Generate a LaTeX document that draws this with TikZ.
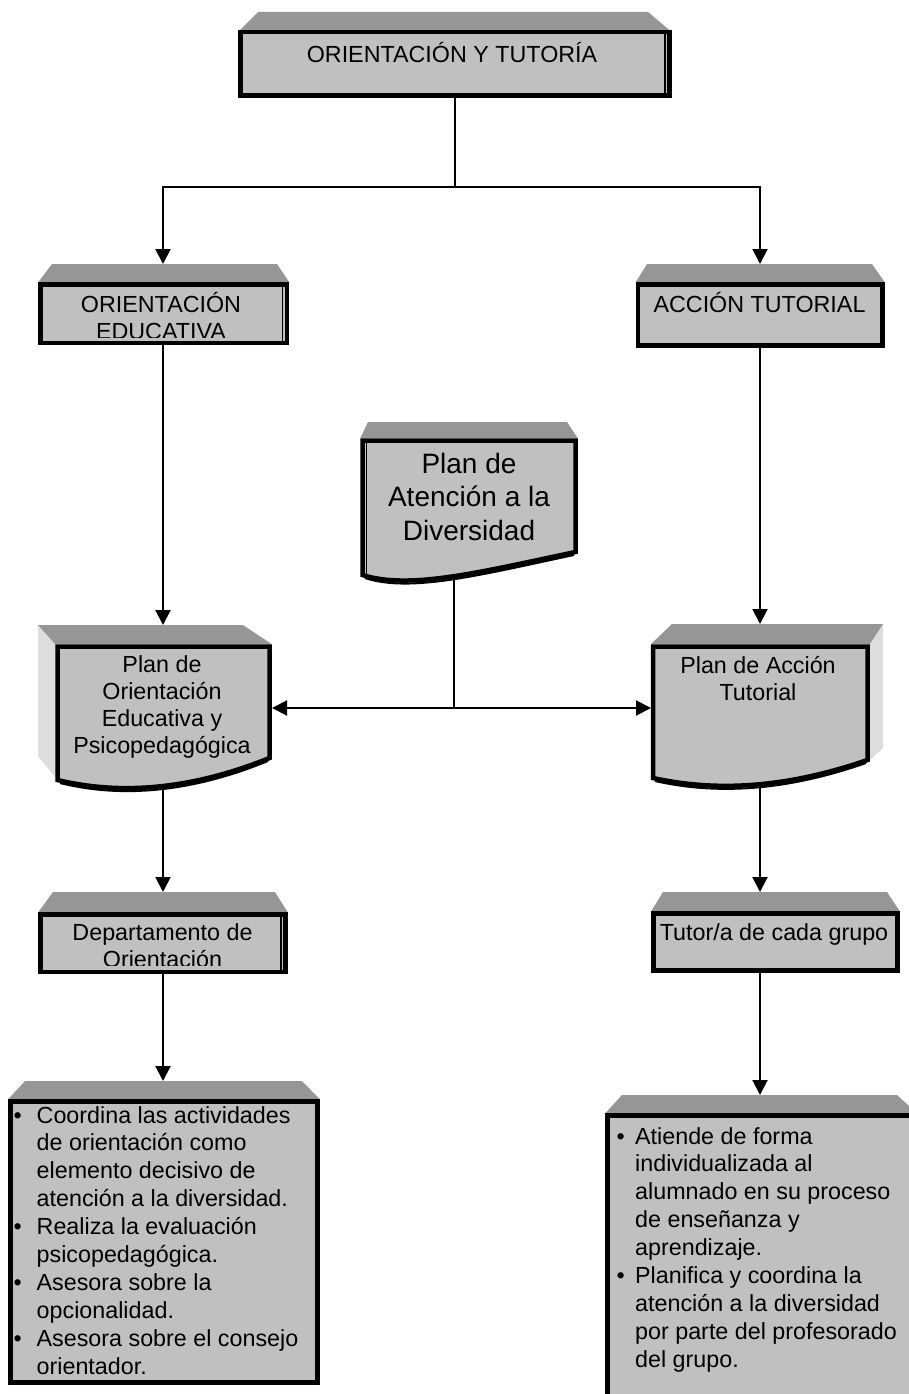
\documentclass[tikz,border=0pt]{standalone}
\usepackage{fontspec}
\setmainfont{Liberation Sans}
\usetikzlibrary{arrows.meta}
\definecolor{facegray}{HTML}{C0C0C0}
\definecolor{topgray}{HTML}{969696}
\definecolor{sidegray}{HTML}{DDDDDD}
\tikzset{
  front/.style={draw=black, fill=facegray, line width=4.5pt, inner sep=0pt, outer sep=0pt},
  topface/.style={fill=topgray},
  sideface/.style={fill=sidegray},
  sketch/.style={draw=black, line width=1.2pt},
  conn/.style={line width=2pt},
  arr/.style={conn, -{Triangle[length=15pt,width=15pt]}},
  boxtext/.style={inner sep=0pt, anchor=base, font=\fontsize{23.3}{27}\selectfont},
  bigtext/.style={inner sep=0pt, anchor=base, font=\fontsize{28}{33.5}\selectfont},
  listtext/.style={inner sep=0pt, anchor=base west, font=\fontsize{23.3}{27.9}\selectfont},
}
\newcommand{\itembullet}[1]{\leavevmode\llap{\textbullet\hspace{#1}}}
\begin{document}
\begin{tikzpicture}[x=1pt,y=-1pt]
\clip (0,0) rectangle (909,1394);

% ---------- ORIENTACIÓN Y TUTORÍA ----------
\fill[topface] (258,12) -- (648,12) -- (671.75,32) -- (238.25,32) -- cycle;
\node[front, minimum width=429pt, minimum height=63.5pt] (A) at (455,63.75) {};
\draw[sketch] (665,34) -- (665,94);
\node[boxtext] (tA) at (452,63) {ORIENTACIÓN Y TUTORÍA};

% ---------- ORIENTACIÓN EDUCATIVA ----------
\fill[topface] (52,264) -- (277,264) -- (289.25,282.25) -- (38.25,282.25) -- cycle;
\node[front, minimum width=246.5pt, minimum height=58.5pt] (B) at (163.75,313.75) {};
\draw[sketch] (282.5,287) -- (282.5,341);
\begin{scope}
  \clip (43,287) rectangle (280,337);
  \node[boxtext] (tB) at (161,312) {\parbox[t]{240pt}{\centering ORIENTACIÓN\\EDUCATIVA}};
\end{scope}

% ---------- ACCIÓN TUTORIAL ----------
\fill[topface] (647,264) -- (872,264) -- (884.75,282.25) -- (635.75,282.25) -- cycle;
\node[front, minimum width=244.5pt, minimum height=61pt] (C) at (760.25,315) {};
\node[boxtext] (tC) at (759.5,312) {ACCIÓN TUTORIAL};

% ---------- Plan de Atención a la Diversidad ----------
\fill[topface] (368,422) -- (567,422) -- (577.75,438.25) -- (360.25,438.25) -- cycle;
\draw[front] (362.5,440.5) -- (575.5,440.5) -- (575.5,552)
  .. controls (480,572) and (410,590) .. (362.5,575) -- cycle;
\draw[sketch] (366.5,443) -- (366.5,574);
\draw[line width=2pt] (365,578) .. controls (410,593) and (480,575) .. (574,555);
\node[bigtext] (tD) at (469,473) {\parbox[t]{210pt}{\centering Plan de\\Atención a la\\Diversidad}};

% ---------- Plan de Orientación Educativa y Psicopedagógica ----------
\fill[sideface] (38,625) -- (57.5,646.5) -- (57.5,780) -- (38,756) -- cycle;
\fill[topface] (38,625) -- (243,625) -- (271.75,644.25) -- (55.25,644.25) -- cycle;
\draw[front] (57.5,646.5) -- (269.5,646.5) -- (269.5,758)
  .. controls (190,790) and (120,795) .. (57.5,780) -- cycle;
\draw[line width=2pt] (60,783) .. controls (120,798) and (190,793) .. (268,761);
\node[boxtext] (tE) at (162,672) {\parbox[t]{210pt}{\centering Plan de\\Orientación\\Educativa y\\Psicopedagógica}};

% ---------- Plan de Acción Tutorial ----------
\fill[sideface] (869.75,644.25) -- (883,624) -- (883,748) -- (869.75,760) -- cycle;
\fill[topface] (672,624) -- (883,624) -- (869.75,644.25) -- (650.75,644.25) -- cycle;
\draw[front] (653,646.5) -- (867.5,646.5) -- (867.5,760)
  .. controls (786,788) and (717,792) .. (653,778) -- cycle;
\draw[line width=2pt] (655,781) .. controls (717,795) and (786,791) .. (866,763);
\node[boxtext] (tF) at (758,673) {\parbox[t]{210pt}{\centering Plan de Acción\\Tutorial}};

% ---------- Departamento de Orientación ----------
\fill[topface] (53,892) -- (275,892) -- (287.75,912.25) -- (38.25,912.25) -- cycle;
\node[front, minimum width=245pt, minimum height=57.5pt] (G) at (163,943.25) {};
\draw[sketch] (281,917) -- (281,970);
\begin{scope}
  \clip (43,917) rectangle (280,965);
  \node[boxtext] (tG) at (162.5,940) {\parbox[t]{240pt}{\centering Departamento de\\Orientación}};
\end{scope}

% ---------- Tutor/a de cada grupo ----------
\fill[topface] (663,892) -- (887,892) -- (899.75,911.25) -- (651.25,911.25) -- cycle;
\node[front, minimum width=244pt, minimum height=57pt] (H) at (775.5,942) {};
\node[boxtext] (tH) at (774,940) {Tutor/a de cada grupo};

% ---------- tasks of the department ----------
\fill[topface] (25,1081) -- (302,1081) -- (319.75,1099.25) -- (8.25,1099.25) -- cycle;
\node[front, minimum width=307pt, minimum height=281pt] (I) at (164,1242) {};
\node[listtext] (tI) at (36.5,1123) {\parbox[t]{280pt}{\raggedright
  \itembullet{15pt}Coordina las actividades\\
  de orientación como\\
  elemento decisivo de\\
  atención a la diversidad.\\
  \itembullet{15pt}Realiza la evaluación\\
  psicopedagógica.\\
  \itembullet{15pt}Asesora sobre la\\
  opcionalidad.\\
  \itembullet{15pt}Asesora sobre el consejo\\
  orientador.}};

% ---------- tasks of the tutor ----------
\fill[topface] (622,1095) -- (897,1095) -- (917,1113.25) -- (605.25,1113.25) -- cycle;
\node[front, minimum width=307.5pt, minimum height=284.5pt] (J) at (761.25,1257.75) {};
\node[listtext] (tJ) at (635,1144) {\parbox[t]{280pt}{\raggedright
  \itembullet{10.5pt}Atiende de forma\\
  individualizada al\\
  alumnado en su proceso\\
  de enseñanza y\\
  aprendizaje.\\
  \itembullet{10.5pt}Planifica y coordina la\\
  atención a la diversidad\\
  por parte del profesorado\\
  del grupo.}};

% ---------- connectors ----------
\coordinate (Asplit) at (455,187);
\coordinate (Bin) at (163,264);
\coordinate (Cin) at (760,264);
\coordinate (Ein) at (163,625);
\coordinate (Fin) at (760,624);
\coordinate (Dout) at (454,577);
\coordinate (Dsplit) at (454,708);
\coordinate (Eright) at (272,708);
\coordinate (Fleft) at (651,708);
\coordinate (Eout) at (163,786);
\coordinate (Fout) at (760,784);
\coordinate (Gin) at (163,892);
\coordinate (Hin) at (760,892);
\coordinate (Iin) at (163,1081);
\coordinate (Jin) at (760,1095);

\draw[conn] (A.south) -- (Asplit);
\draw[arr] (Asplit) -| (Bin);
\draw[arr] (Asplit) -| (Cin);
\draw[arr] (B.south -| Ein) -- (Ein);
\draw[arr] (C.south -| Fin) -- (Fin);
\draw[conn] (Dout) -- (Dsplit);
\draw[arr] (Dsplit) -- (Eright);
\draw[arr] (Dsplit) -- (Fleft);
\draw[arr] (Eout) -- (Gin);
\draw[arr] (Fout) -- (Hin);
\draw[arr] (G.south -| Iin) -- (Iin);
\draw[arr] (H.south -| Jin) -- (Jin);
\end{tikzpicture}
\end{document}
